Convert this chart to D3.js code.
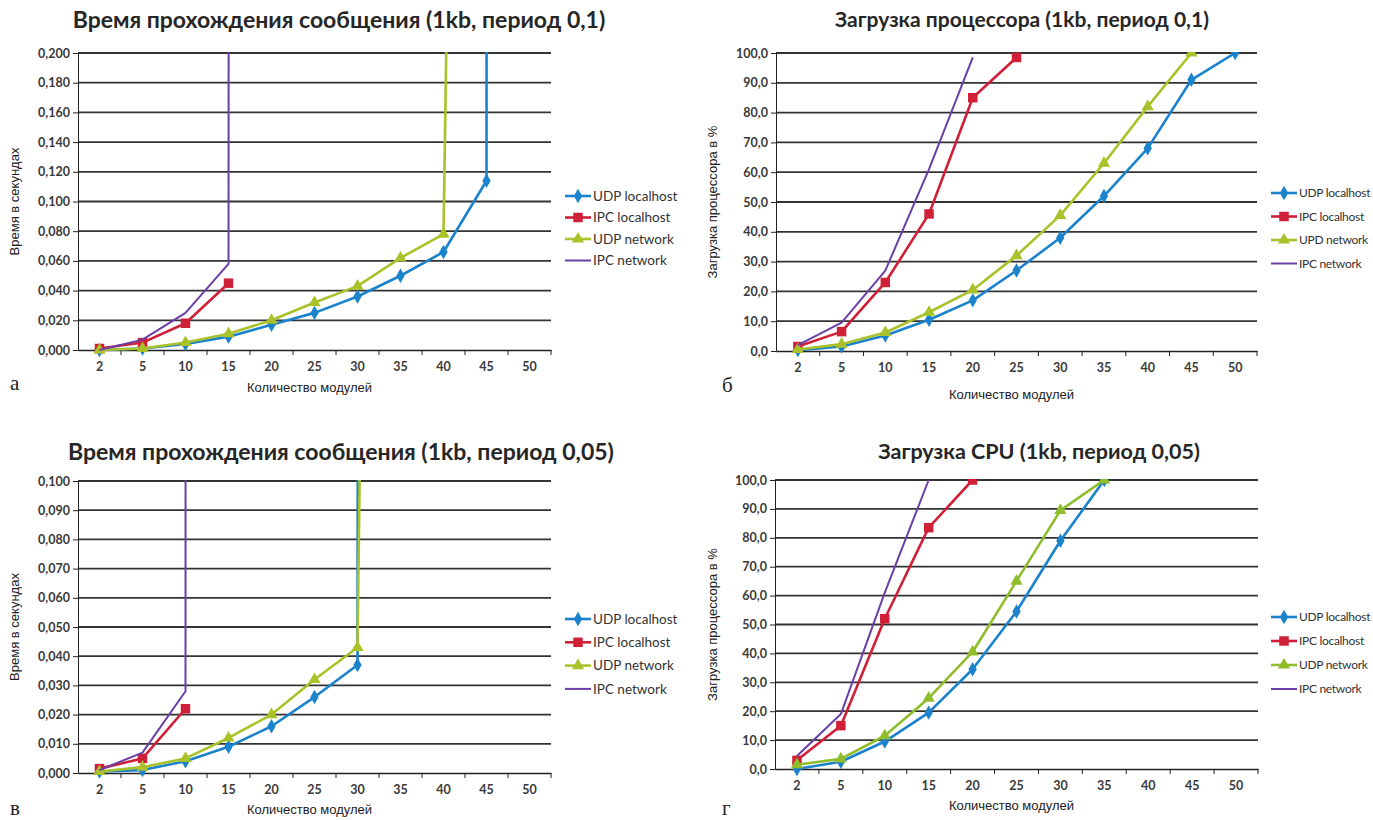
<!DOCTYPE html>
<html>
<head>
<meta charset="utf-8">
<style>
  body { margin: 0; background: #fff; }
  .title { font-family: Lato, sans-serif; font-weight: bold; fill: #262626; text-anchor: middle; }
  .tick text { font-family: Lato, sans-serif; font-size: 12.5px; font-weight: bold; fill: #3a3a3a; }
  .axis path { stroke: #222; }
  .axis line { stroke: #222; }
  .axis-title { font-family: "Liberation Sans", Arial, sans-serif; font-size: 13px; fill: #222; }
  .letter { font-family: "Liberation Serif", serif; font-size: 21px; fill: #222; }
  .legend text { font-family: Lato, sans-serif; fill: #333; }
  .grid line { stroke: #333; stroke-width: 1.8; }
</style>
<script src="https://d3js.org/d3.v7.min.js"></script>
</head>
<body>
<svg width="1373" height="820"></svg>
<script>
// categories (number of modules)
var modules = ["2", "5", "10", "15", "20", "25", "30", "35", "40", "45", "50"];

// values above the axis maximum are off-scale points (the line runs up out of the plot)
// а: message time, period 0,1 (seconds)
var a_udpLocal = [0.000, 0.001, 0.004, 0.009, 0.017, 0.025, 0.036, 0.050, 0.066, 0.114, 50];
var a_ipcLocal = [0.001, 0.005, 0.018, 0.045, null, null, null, null, null, null, null];
var a_udpNet   = [0.000, 0.001, 0.005, 0.011, 0.020, 0.032, 0.043, 0.062, 0.078, 2.0, null];
var a_ipcNet   = [0.000, 0.007, 0.025, 0.058, 50, null, null, null, null, null, null];

// б: CPU load, period 0,1 (%)
var b_udpLocal = [0.3, 1.5, 5.2, 10.5, 17, 27, 38, 52, 68, 91, 100];
var b_ipcLocal = [1.5, 6.5, 23, 46, 85, 98.5, null, null, null, null, null];
var b_udpNet   = [0.5, 2.3, 6.2, 13, 20.5, 32, 45.5, 63, 82, 100, null];
var b_ipcNet   = [2, 9.5, 27, 61, 98.5, null, null, null, null, null, null];

// в: message time, period 0,05 (seconds)
var c_udpLocal = [0.0005, 0.001, 0.004, 0.009, 0.016, 0.026, 0.037, 10, null, null, null];
var c_ipcLocal = [0.0015, 0.005, 0.022, null, null, null, null, null, null, null, null];
var c_udpNet   = [0.0005, 0.002, 0.005, 0.012, 0.020, 0.032, 0.043, 1.2, null, null, null];
var c_ipcNet   = [0.001, 0.007, 0.028, 50, null, null, null, null, null, null, null];

// г: CPU load, period 0,05 (%)
var d_udpLocal = [0, 2.5, 9.5, 19.5, 34.5, 54.5, 79, 100, null, null, null];
var d_ipcLocal = [3, 15, 52, 83.5, 100, null, null, null, null, null, null];
var d_udpNet   = [1.5, 3.5, 11.5, 24.5, 40.5, 65, 89.5, 100, null, null, null];
var d_ipcNet   = [4.5, 19, 61, 100, null, null, null, null, null, null, null];

var namesA = ["UDP localhost", "IPC localhost", "UDP network", "IPC network"];
var namesB = ["UDP localhost", "IPC localhost", "UPD network", "IPC network"];

var colors = ["#1b82cc", "#cf2037", "#a9c22a", "#6a3fa6"];
var colorsD = ["#1b82cc", "#cf2037", "#8fbd2c", "#6a3fa6"];
var markers = [d3.symbolDiamond, d3.symbolSquare, d3.symbolTriangle, null];
var markerSize = [60, 90, 65, 0];

var svg = d3.select("svg");

var panels = [
  { id: "a", x0: 78, x1: 551, top: 53, bottom: 350, max: 0.2, step: 0.02, dec: 3,
    title: "Время прохождения сообщения (1kb, период 0,1)", titleSize: 23, titleX: 339, titleY: 28,
    yLabel: "Время в секундах", yLabelX: 19, xLabelY: 392, letter: "а", letterY: 390,
    legendX: 565, legendY: 196, legendStep: 21.5, legendSize: 13.5, names: namesA, colors: colors,
    series: [a_udpLocal, a_ipcLocal, a_udpNet, a_ipcNet] },
  { id: "b", x0: 776, x1: 1257, top: 53, bottom: 351, max: 100, step: 10, dec: 1,
    title: "Загрузка процессора (1kb, период 0,1)", titleSize: 21, titleX: 1022, titleY: 27,
    yLabel: "Загрузка процессора в %", yLabelX: 717, xLabelY: 399, letter: "б", letterY: 392,
    legendX: 1271, legendY: 193, legendStep: 23.5, legendSize: 12, names: namesB, colors: colors,
    series: [b_udpLocal, b_ipcLocal, b_udpNet, b_ipcNet] },
  { id: "c", x0: 78, x1: 551, top: 481, bottom: 773, max: 0.1, step: 0.01, dec: 3,
    title: "Время прохождения сообщения (1kb, период 0,05)", titleSize: 23, titleX: 341, titleY: 460,
    yLabel: "Время в секундах", yLabelX: 19, xLabelY: 814, letter: "в", letterY: 815,
    legendX: 565, legendY: 619, legendStep: 23.3, legendSize: 13.5, names: namesA, colors: colors,
    series: [c_udpLocal, c_ipcLocal, c_udpNet, c_ipcNet] },
  { id: "d", x0: 775, x1: 1258, top: 480, bottom: 769, max: 100, step: 10, dec: 1,
    title: "Загрузка CPU (1kb, период 0,05)", titleSize: 21.5, titleX: 1039, titleY: 459,
    yLabel: "Загрузка процессора в %", yLabelX: 717, xLabelY: 810, letter: "г", letterY: 815,
    legendX: 1271, legendY: 617, legendStep: 24, legendSize: 12, names: namesA, colors: colorsD,
    series: [d_udpLocal, d_ipcLocal, d_udpNet, d_ipcNet] }
];

panels.forEach(drawPanel);

function drawPanel(p) {
  var x = d3.scaleBand().domain(modules).range([p.x0, p.x1]);
  var y = d3.scaleLinear().domain([0, p.max]).range([p.bottom, p.top]);
  var cx = function (i) { return x(modules[i]) + x.bandwidth() / 2; };
  var g = svg.append("g");

  // title
  g.append("text").attr("class", "title")
    .attr("x", p.titleX).attr("y", p.titleY)
    .style("font-size", p.titleSize + "px").text(p.title);

  // grid lines
  var ticks = d3.range(0, p.max + p.step / 2, p.step);
  g.append("g").attr("class", "grid")
    .selectAll("line").data(ticks.slice(1)).enter().append("line")
      .attr("x1", p.x0).attr("x2", p.x1)
      .attr("y1", function (d) { return y(d); })
      .attr("y2", function (d) { return y(d); });

  // y axis
  g.append("g").attr("class", "axis")
    .attr("transform", "translate(" + p.x0 + ",0)")
    .call(d3.axisLeft(y).tickValues(ticks).tickSize(5).tickPadding(3)
      .tickFormat(function (d) { return d.toFixed(p.dec).replace(".", ","); }));

  // x axis: labels centred in categories, tick marks between them
  var xa = g.append("g").attr("class", "axis")
    .attr("transform", "translate(0," + p.bottom + ")")
    .call(d3.axisBottom(x).tickSize(0).tickPadding(12).tickSizeOuter(0));
  xa.selectAll(".tick").filter(function (d) { return d !== "2"; }).append("line")
    .attr("x1", -x.bandwidth() / 2).attr("x2", -x.bandwidth() / 2).attr("y2", 5);
  xa.append("line").attr("x1", p.x1).attr("x2", p.x1).attr("y2", 5);
  xa.select(".domain").attr("stroke-width", 1.5);

  // axis titles
  g.append("text").attr("class", "axis-title")
    .attr("transform", "translate(" + p.yLabelX + "," + ((p.top + p.bottom) / 2) + ") rotate(-90)")
    .attr("text-anchor", "middle").text(p.yLabel);
  g.append("text").attr("class", "axis-title")
    .attr("x", (p.x0 + p.x1) / 2 - 5).attr("y", p.xLabelY)
    .attr("text-anchor", "middle").text("Количество модулей");
  g.append("text").attr("class", "letter")
    .attr("x", p.id === "a" || p.id === "c" ? 10 : 722).attr("y", p.letterY).text(p.letter);

  // series
  g.append("clipPath").attr("id", "clip-" + p.id)
    .append("rect").attr("x", p.x0).attr("y", p.top - 1)
    .attr("width", p.x1 - p.x0).attr("height", p.bottom - p.top + 10);

  var line = d3.line()
    .defined(function (d) { return d !== null; })
    .x(function (d, i) { return cx(i); })
    .y(function (d) { return y(d); });

  [0, 1, 2, 3].forEach(function (s) {
    var vals = p.series[s];
    var sg = g.append("g").attr("clip-path", "url(#clip-" + p.id + ")");
    sg.append("path").datum(vals)
      .attr("fill", "none").attr("stroke", p.colors[s])
      .attr("stroke-width", s === 3 ? 2 : 2.6)
      .attr("stroke-linejoin", "round")
      .attr("d", line);
    if (markers[s]) {
      var pts = vals.map(function (v, i) { return { v: v, i: i }; })
        .filter(function (d) { return d.v !== null && d.v <= p.max; });
      sg.selectAll("path.m").data(pts).enter().append("path")
        .attr("class", "m")
        .attr("fill", p.colors[s])
        .attr("transform", function (d) { return "translate(" + cx(d.i) + "," + y(d.v) + ")"; })
        .attr("d", d3.symbol().type(markers[s]).size(markerSize[s]));
    }
  });

  // legend
  var lg = g.append("g").attr("class", "legend")
    .attr("transform", "translate(" + p.legendX + "," + p.legendY + ")")
    .style("font-size", p.legendSize + "px");
  p.names.forEach(function (name, s) {
    var row = lg.append("g").attr("transform", "translate(0," + s * p.legendStep + ")");
    row.append("line").attr("x1", 0).attr("x2", 26)
      .attr("stroke", p.colors[s]).attr("stroke-width", s === 3 ? 2 : 2.6);
    if (markers[s]) {
      row.append("path").attr("fill", p.colors[s]).attr("transform", "translate(13,0)")
        .attr("d", d3.symbol().type(markers[s]).size(markerSize[s]));
    }
    row.append("text").attr("x", 28).attr("dy", "0.35em")
      .attr("letter-spacing", p.legendSize < 13 ? "-0.3" : null).text(name);
  });
}
</script>
</body>
</html>
